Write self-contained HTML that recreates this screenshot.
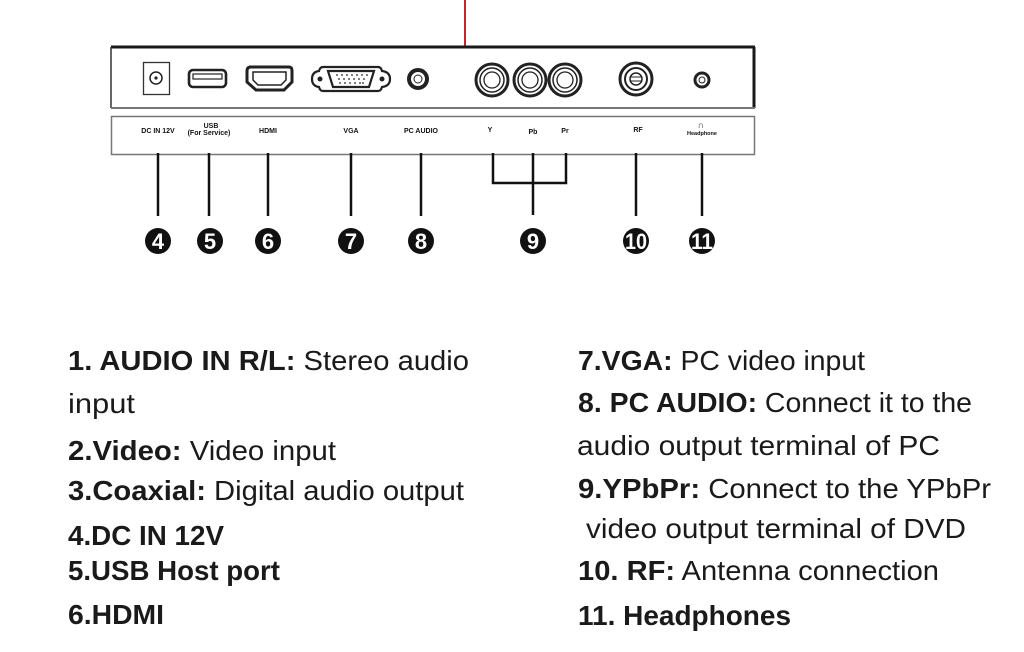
<!DOCTYPE html>
<html><head><meta charset="utf-8"><style>
html,body{margin:0;padding:0;background:#fff;}
svg{display:block;}
.t{font-family:"Liberation Sans Narrow","Liberation Sans",sans-serif;font-size:28px;fill:#1a1a1a;}
.b{font-weight:bold;}
.s{font-family:"Liberation Sans",sans-serif;font-size:7px;font-weight:bold;fill:#111;text-anchor:middle;}
.n{font-family:"Liberation Sans",sans-serif;font-size:22px;font-weight:bold;fill:#fff;text-anchor:middle;}
</style></head><body>
<svg width="1024" height="652" viewBox="0 0 1024 652" xmlns="http://www.w3.org/2000/svg">
<line x1="465" y1="0" x2="465" y2="47" stroke="#c8232b" stroke-width="2"/>
<line x1="111" y1="47" x2="755" y2="47" stroke="#1a1a1a" stroke-width="3"/>
<line x1="111" y1="47" x2="111" y2="108" stroke="#333" stroke-width="1.5"/>
<line x1="754" y1="47" x2="754" y2="108" stroke="#1a1a1a" stroke-width="3"/>
<line x1="111" y1="108" x2="755" y2="108" stroke="#777" stroke-width="2"/>
<rect x="111.5" y="116.5" width="643" height="38" fill="none" stroke="#777" stroke-width="1.5"/>
<rect x="143.5" y="62.5" width="26" height="32" fill="none" stroke="#333" stroke-width="1.3"/>
<circle cx="156" cy="78" r="6" fill="none" stroke="#222" stroke-width="1.5"/>
<circle cx="156" cy="78" r="1.6" fill="#222"/>
<rect x="189" y="70" width="37" height="17" rx="4" fill="none" stroke="#222" stroke-width="2.6"/>
<rect x="193" y="74" width="29" height="5" fill="none" stroke="#222" stroke-width="1.2"/>
<path d="M249 67 H289 Q292 67 292 71 V82 L284 90 H256 L247 82 V71 Q247 67 251 67Z" fill="none" stroke="#222" stroke-width="3"/>
<path d="M253 72 H286 V80 L281 85 H258 L253 80Z" fill="none" stroke="#222" stroke-width="1.5"/>
<path d="M323 67 H378 Q381 67 382 71 Q390 72 390 79 Q390 86 382 87 Q381 91 378 91 H323 Q320 91 319 87 Q312 86 312 79 Q312 72 319 71 Q320 67 323 67Z" fill="none" stroke="#222" stroke-width="2.2"/>
<path d="M328 71 H374 L369 87 H333Z" fill="none" stroke="#222" stroke-width="2.2"/>
<circle cx="320" cy="79" r="2.5" fill="#222"/><circle cx="382" cy="79" r="2.5" fill="#222"/>
<g fill="#222">
<circle cx="337" cy="75" r=".9"/><circle cx="342" cy="75" r=".9"/><circle cx="347" cy="75" r=".9"/><circle cx="352" cy="75" r=".9"/><circle cx="357" cy="75" r=".9"/><circle cx="362" cy="75" r=".9"/><circle cx="367" cy="75" r=".9"/>
<circle cx="339" cy="79" r=".9"/><circle cx="344" cy="79" r=".9"/><circle cx="349" cy="79" r=".9"/><circle cx="354" cy="79" r=".9"/><circle cx="359" cy="79" r=".9"/><circle cx="364" cy="79" r=".9"/>
<circle cx="340" cy="83" r=".9"/><circle cx="345" cy="83" r=".9"/><circle cx="350" cy="83" r=".9"/><circle cx="355" cy="83" r=".9"/><circle cx="360" cy="83" r=".9"/><circle cx="363" cy="83" r=".9"/>
</g>
<circle cx="418" cy="79" r="9" fill="none" stroke="#222" stroke-width="4"/>
<circle cx="418" cy="79" r="4" fill="none" stroke="#222" stroke-width="1"/>
<g fill="none" stroke="#222">
<circle cx="492" cy="80" r="16" stroke-width="3"/><circle cx="492" cy="80" r="12" stroke-width="1.5"/><circle cx="492" cy="80" r="8" stroke-width="1.3"/>
<circle cx="530" cy="80" r="16" stroke-width="3"/><circle cx="530" cy="80" r="12" stroke-width="1.5"/><circle cx="530" cy="80" r="8" stroke-width="1.3"/>
<circle cx="565" cy="80" r="16" stroke-width="3"/><circle cx="565" cy="80" r="12" stroke-width="1.5"/><circle cx="565" cy="80" r="8" stroke-width="1.3"/>
<circle cx="636" cy="79" r="16" stroke-width="3"/><circle cx="636" cy="79" r="11" stroke-width="2"/><circle cx="636" cy="79" r="6" stroke-width="1.5"/>
<line x1="630" y1="77" x2="642" y2="77" stroke-width="1"/><line x1="630" y1="81" x2="642" y2="81" stroke-width="1"/>
<circle cx="702" cy="80" r="7" stroke-width="3"/><circle cx="702" cy="80" r="3" stroke-width="1"/>
</g>
<text class="s" x="158" y="133">DC IN 12V</text>
<text class="s" x="211" y="128">USB</text>
<text class="s" x="209" y="135">(For Service)</text>
<text class="s" x="268" y="133">HDMI</text>
<text class="s" x="351" y="133">VGA</text>
<text class="s" x="421" y="133">PC AUDIO</text>
<text class="s" x="490" y="132">Y</text>
<text class="s" x="533" y="134">Pb</text>
<text class="s" x="565" y="133">Pr</text>
<text class="s" x="638" y="132">RF</text>
<text class="s" x="701" y="128" style="font-size:9px">∩</text>
<text class="s" x="702" y="135" style="font-size:5.5px">Headphone</text>
<g stroke="#111" stroke-width="2.5" fill="none">
<line x1="158" y1="153" x2="158" y2="216"/>
<line x1="209" y1="153" x2="209" y2="216"/>
<line x1="268" y1="153" x2="268" y2="216"/>
<line x1="351" y1="153" x2="351" y2="216"/>
<line x1="421" y1="153" x2="421" y2="216"/>
<path d="M493 153 V183 H566 V153"/>
<line x1="533" y1="153" x2="533" y2="215"/>
<line x1="636" y1="153" x2="636" y2="216"/>
<line x1="702" y1="153" x2="702" y2="216"/>
</g>
<g fill="#111">
<circle cx="158" cy="241" r="13"/><circle cx="210" cy="241" r="13"/><circle cx="268" cy="241" r="13"/><circle cx="351" cy="241" r="13"/><circle cx="421" cy="241" r="13"/><circle cx="533" cy="241" r="13"/><circle cx="636" cy="241" r="13"/><circle cx="702" cy="241" r="13"/>
</g>
<text class="n" x="158" y="249">4</text><text class="n" x="210" y="249">5</text><text class="n" x="268" y="249">6</text><text class="n" x="351" y="249">7</text><text class="n" x="421" y="249">8</text><text class="n" x="533" y="249">9</text>
<text class="n" x="636" y="249" textLength="22" lengthAdjust="spacingAndGlyphs">10</text><text class="n" x="702" y="249" textLength="22" lengthAdjust="spacingAndGlyphs">11</text>
<text class="t" x="68" y="370" textLength="401" lengthAdjust="spacingAndGlyphs"><tspan class="b">1. AUDIO IN R/L:</tspan>  Stereo audio</text>
<text class="t" x="68" y="413" textLength="67" lengthAdjust="spacingAndGlyphs">input</text>
<text class="t" x="68" y="460" textLength="268" lengthAdjust="spacingAndGlyphs"><tspan class="b">2.Video:</tspan>  Video input</text>
<text class="t" x="68" y="500" textLength="396" lengthAdjust="spacingAndGlyphs"><tspan class="b">3.Coaxial:</tspan> Digital audio output</text>
<text class="t b" x="68" y="545" textLength="156" lengthAdjust="spacingAndGlyphs">4.DC IN 12V</text>
<text class="t b" x="68" y="580" textLength="212" lengthAdjust="spacingAndGlyphs">5.USB Host port</text>
<text class="t b" x="68" y="624" textLength="96" lengthAdjust="spacingAndGlyphs">6.HDMI</text>
<text class="t" x="578" y="370" textLength="287" lengthAdjust="spacingAndGlyphs"><tspan class="b">7.VGA:</tspan> PC video input</text>
<text class="t" x="578" y="412" textLength="394" lengthAdjust="spacingAndGlyphs"><tspan class="b">8. PC AUDIO:</tspan> Connect it to the</text>
<text class="t" x="577" y="455" textLength="363" lengthAdjust="spacingAndGlyphs">audio output terminal of PC</text>
<text class="t" x="578" y="498" textLength="413" lengthAdjust="spacingAndGlyphs"><tspan class="b">9.YPbPr:</tspan>  Connect to the YPbPr</text>
<text class="t" x="586" y="538" textLength="380" lengthAdjust="spacingAndGlyphs">video output terminal of DVD</text>
<text class="t" x="578" y="580" textLength="361" lengthAdjust="spacingAndGlyphs"><tspan class="b">10. RF:</tspan> Antenna connection</text>
<text class="t b" x="578" y="625" textLength="213" lengthAdjust="spacingAndGlyphs">11. Headphones</text>
</svg>
</body></html>
